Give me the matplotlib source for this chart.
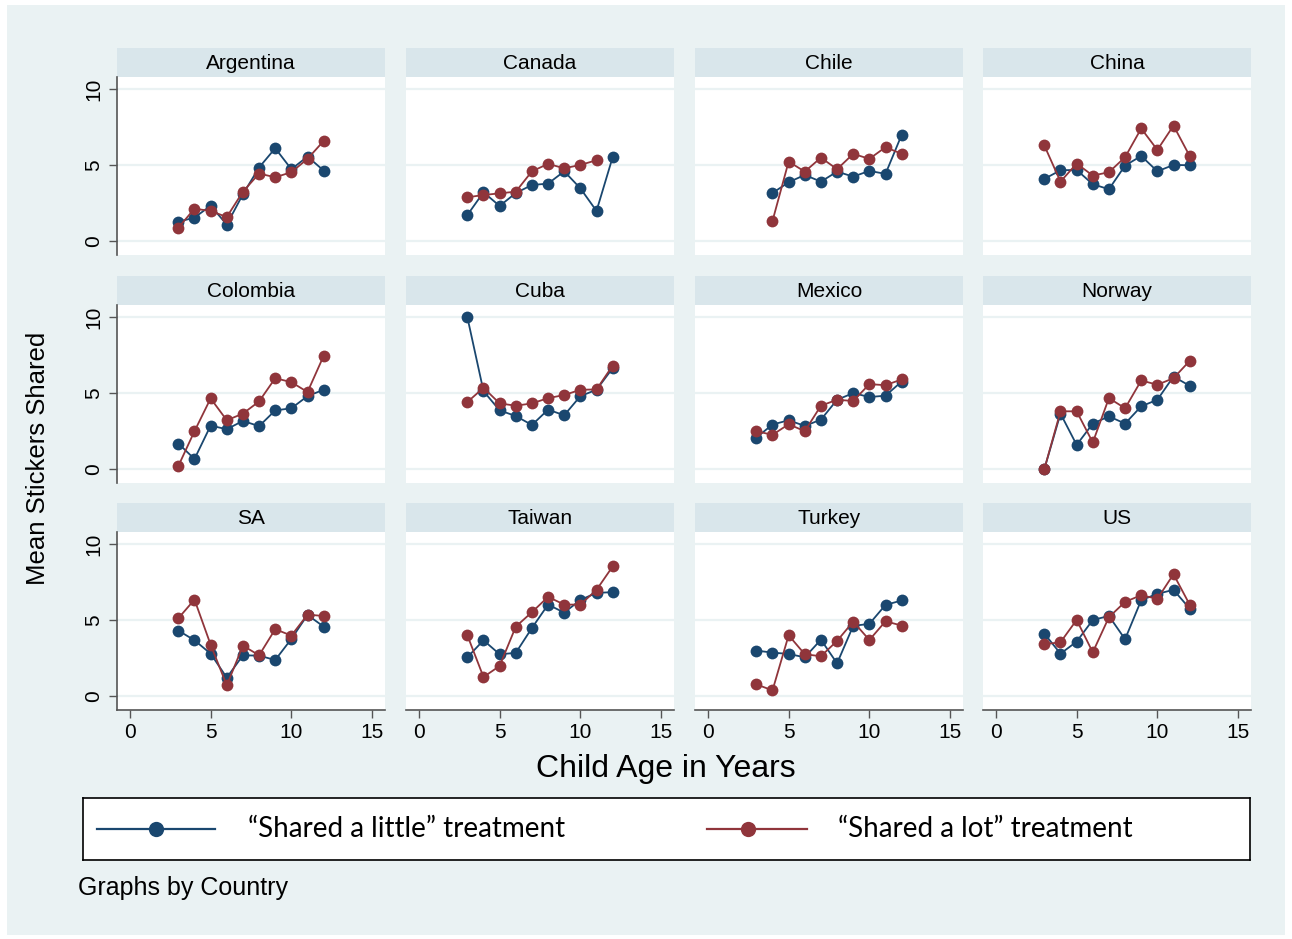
import numpy as np
import matplotlib
matplotlib.use("Agg")
import matplotlib.pyplot as plt
from matplotlib.patches import Rectangle

# data (mean stickers shared by age)
countries = ["Argentina", "Canada", "Chile", "China",
             "Colombia", "Cuba", "Mexico", "Norway",
             "SA", "Taiwan", "Turkey", "US"]

ages = list(range(3, 13))

little = {
    "Argentina": [1.27, 1.54, 2.33, 1.08, 3.08, 4.84, 6.11, 4.73, 5.56, 4.64],
    "Canada":    [1.71, 3.21, 2.31, 3.16, 3.69, 3.78, 4.59, 3.47, 1.98, 5.52],
    "Chile":     [None, 3.16, 3.87, 4.35, 3.91, 4.57, 4.24, 4.62, 4.42, 6.99],
    "China":     [4.09, 4.66, 4.68, 3.74, 3.41, 4.97, 5.60, 4.59, 5.01, 4.99],
    "Colombia":  [1.68, 0.66, 2.86, 2.62, 3.17, 2.82, 3.86, 4.00, 4.80, 5.22],
    "Cuba":      [10.0, 5.13, 3.86, 3.49, 2.90, 3.91, 3.54, 4.80, 5.22, 6.64],
    "Mexico":    [2.07, 2.93, 3.21, 2.84, 3.25, 4.56, 5.00, 4.74, 4.83, 5.76],
    "Norway":    [0.00, 3.65, 1.59, 2.99, 3.47, 2.99, 4.13, 4.56, 6.09, 5.48],
    "SA":        [4.31, 3.67, 2.79, 1.21, 2.68, 2.66, 2.37, 3.76, 5.34, 4.57],
    "Taiwan":    [2.55, 3.67, 2.75, 2.84, 4.48, 6.02, 5.49, 6.33, 6.79, 6.84],
    "Turkey":    [2.99, 2.86, 2.77, 2.55, 3.71, 2.15, 4.62, 4.75, 6.00, 6.29],
    "US":        [4.11, 2.79, 3.58, 5.01, 5.27, 3.74, 6.31, 6.73, 6.99, 5.76],
}

alot = {
    "Argentina": [0.88, 2.13, 1.98, 1.58, 3.25, 4.44, 4.20, 4.53, 5.41, 6.59],
    "Canada":    [2.88, 3.03, 3.14, 3.25, 4.59, 5.08, 4.79, 5.01, 5.32, None],
    "Chile":     [None, 1.32, 5.23, 4.57, 5.49, 4.73, 5.74, 5.41, 6.18, 5.74],
    "China":     [6.29, 3.91, 5.10, 4.31, 4.53, 5.52, 7.41, 6.00, 7.60, 5.60],
    "Colombia":  [0.20, 2.49, 4.65, 3.21, 3.65, 4.45, 5.98, 5.72, 5.07, 7.45],
    "Cuba":      [4.41, 5.35, 4.32, 4.17, 4.32, 4.67, 4.87, 5.22, 5.24, 6.81],
    "Mexico":    [2.49, 2.25, 2.95, 2.49, 4.17, 4.56, 4.48, 5.59, 5.52, 5.90],
    "Norway":    [0.00, 3.80, 3.80, 1.75, 4.67, 4.00, 5.83, 5.55, 5.98, 7.12],
    "SA":        [5.12, 6.35, 3.38, 0.70, 3.32, 2.68, 4.40, 3.98, 5.36, 5.27],
    "Taiwan":    [4.00, 1.25, 1.98, 4.57, 5.52, 6.53, 6.02, 6.02, 6.99, 8.53],
    "Turkey":    [0.77, 0.37, 4.00, 2.75, 2.62, 3.63, 4.90, 3.69, 4.92, 4.64],
    "US":        [3.41, 3.54, 5.01, 2.88, 5.19, 6.20, 6.64, 6.40, 8.02, 6.02],
}

x_ticks = [0, 5, 10, 15]
y_ticks = [0, 5, 10]

BLUE = "#1a476f"
RED = "#90353b"
BG = "#eaf2f3"
STRIP = "#d9e6eb"
W, H = 1292, 939


def fig_box(left, top, width, height):
    # pixel box -> figure fraction
    return [left / W, 1 - (top + height) / H, width / W, height / H]


def series(vals):
    xs = [a for a, v in zip(ages, vals) if v is not None]
    ys = [v for v in vals if v is not None]
    return xs, ys


plt.rcParams["font.family"] = ["Liberation Sans", "DejaVu Sans"]
fig = plt.figure(figsize=(W / 100, H / 100), dpi=100, facecolor="white")

# light graph region
fig.patches.append(Rectangle((7 / W, 1 - 935 / H), 1278 / W, 930 / H,
                             transform=fig.transFigure, facecolor=BG,
                             edgecolor="none", zorder=-10))

col_left = [117, 406, 695, 983]
row_top = [48, 276, 503]
pw, strip_h, ph = 268, 29, 178

for i, name in enumerate(countries):
    r, c = divmod(i, 4)
    left, top = col_left[c], row_top[r]

    sax = fig.add_axes(fig_box(left, top, pw, strip_h))
    sax.set_facecolor(STRIP)
    sax.set_xticks([])
    sax.set_yticks([])
    for s in sax.spines.values():
        s.set_visible(False)
    sax.text(0.5, 0.45, name, ha="center", va="center", fontsize=15,
             transform=sax.transAxes)

    ax = fig.add_axes(fig_box(left, top + strip_h, pw, ph))
    ax.set_facecolor("white")
    ax.set_xlim(-0.8, 15.8)
    ax.set_ylim(-0.92, 10.8)
    ax.set_yticks(y_ticks)
    ax.set_xticks(x_ticks)
    ax.grid(axis="y", color=BG, linewidth=1.6)
    ax.set_axisbelow(True)
    for s in ["top", "right"]:
        ax.spines[s].set_visible(False)
    ax.spines["left"].set_visible(c == 0)
    ax.spines["bottom"].set_visible(r == 2)
    for s in ["left", "bottom"]:
        ax.spines[s].set_color("#555555")
        ax.spines[s].set_linewidth(1.2)
    if c == 0:
        ax.tick_params(axis="y", length=6, width=1, color="#555555",
                       labelsize=15, pad=4)
        for lbl in ax.get_yticklabels():
            lbl.set_rotation(90)
            lbl.set_va("center")
    else:
        ax.tick_params(axis="y", length=0, labelleft=False)
    if r == 2:
        ax.tick_params(axis="x", length=6, width=1, color="#555555",
                       labelsize=15, pad=3)
    else:
        ax.tick_params(axis="x", length=0, labelbottom=False)

    xb, yb = series(little[name])
    ax.plot(xb, yb, color=BLUE, lw=1.3, marker="o", ms=8.5,
            markeredgewidth=0, zorder=3)
    xr, yr = series(alot[name])
    ax.plot(xr, yr, color=RED, lw=1.3, marker="o", ms=8.5,
            markeredgewidth=0, zorder=4)

fig.text(38 / W, 1 - 458 / H, "Mean Stickers Shared", rotation=90,
         ha="center", va="center", fontsize=18.5)
fig.text(666 / W, 1 - 769 / H, "Child Age in Years", ha="center",
         va="center", fontsize=23)

# legend box (data coords are pixels)
lax = fig.add_axes(fig_box(83, 798, 1167, 62))
lax.set_xlim(83, 1250)
lax.set_ylim(0, 62)
lax.set_xticks([])
lax.set_yticks([])
lax.set_facecolor("white")
for s in lax.spines.values():
    s.set_color("black")
    s.set_linewidth(1.2)
lax.plot([97, 215], [31, 31], color=BLUE, lw=1.6)
lax.plot([156], [31], "o", color=BLUE, ms=11, markeredgewidth=0)
lax.plot([707, 807], [31, 31], color=RED, lw=1.6)
lax.plot([748], [31], "o", color=RED, ms=11, markeredgewidth=0)
lax.text(248, 31, "\u201cShared a little\u201d treatment", va="center",
         fontsize=20, family=["Lato", "DejaVu Sans"])
lax.text(838, 31, "\u201cShared a lot\u201d treatment", va="center",
         fontsize=20, family=["Lato", "DejaVu Sans"])

fig.text(78 / W, 1 - 888 / H, "Graphs by Country", ha="left", va="center",
         fontsize=18)

fig.savefig("out.png", dpi=100, facecolor="white")
